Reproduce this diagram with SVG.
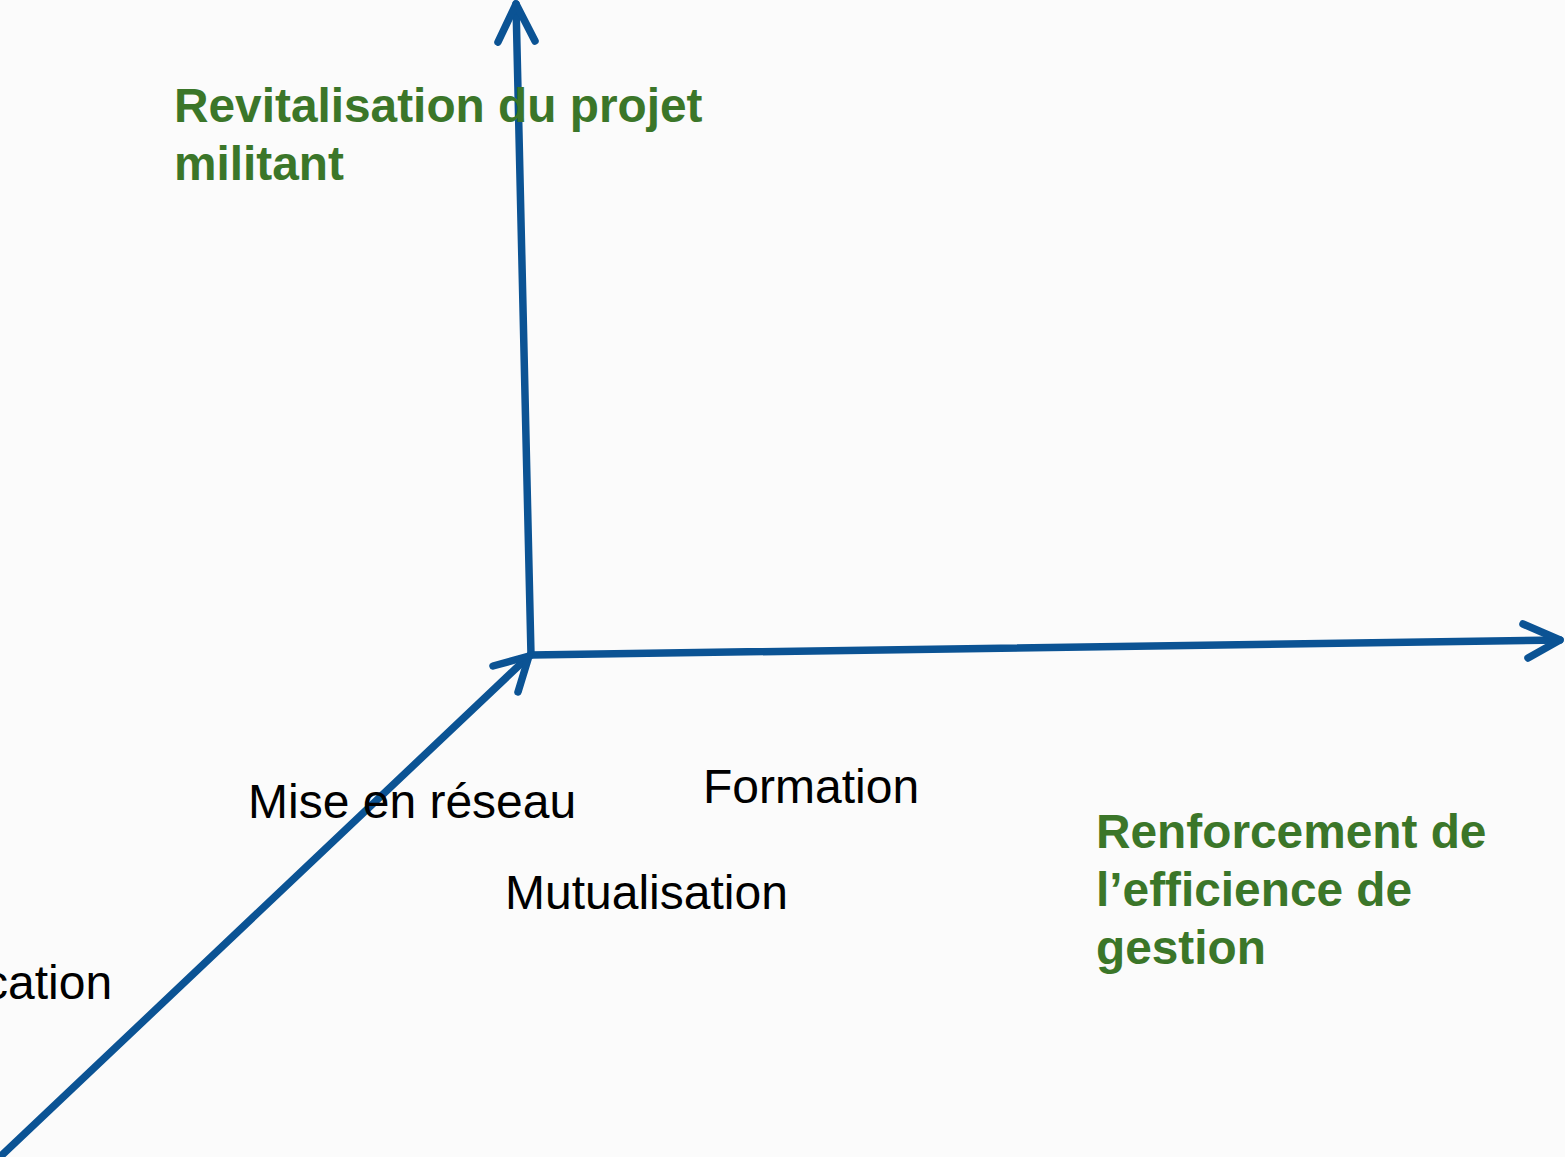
<svg xmlns="http://www.w3.org/2000/svg" width="1565" height="1157" viewBox="0 0 1565 1157">
<style>
.axis{fill:none;stroke:#0b5394;stroke-width:7.5;stroke-linecap:round;stroke-linejoin:round}
.g{font-family:"Liberation Sans",Arial,sans-serif;font-weight:bold;font-size:47.8px;fill:#3b7629}
.t{font-family:"Liberation Sans",Arial,sans-serif;font-size:48px;fill:#000}
</style>
<rect width="1565" height="1157" fill="#fbfbfb"/>
<g id="connectors">
<path class="axis" d="M531,655 L516,4"/>
<path class="axis" d="M498,42 L516,4 L535,41"/>
<path class="axis" d="M531,655 L1560,640"/>
<path class="axis" d="M1523,624 L1560,640 L1528,658"/>
<path class="axis" d="M1,1156 L529,656"/>
<path class="axis" d="M493,666 L529,656 L518,692"/>
</g>
<g id="axis-y-label"><text class="g" x="174" y="122">Revitalisation du projet</text><text class="g" x="174" y="180">militant</text></g>
<g id="axis-x-label"><text class="g" x="1096" y="848">Renforcement de</text><text class="g" x="1096" y="906">l’efficience de</text><text class="g" x="1096" y="964">gestion</text></g>
<g id="mise-en-reseau"><text class="t" x="248" y="818">Mise en réseau</text></g>
<g id="formation"><text class="t" x="703" y="803">Formation</text></g>
<g id="mutualisation"><text class="t" x="505" y="909">Mutualisation</text></g>
<g id="cation"><text class="t" x="-16" y="999">cation</text></g>
</svg>
